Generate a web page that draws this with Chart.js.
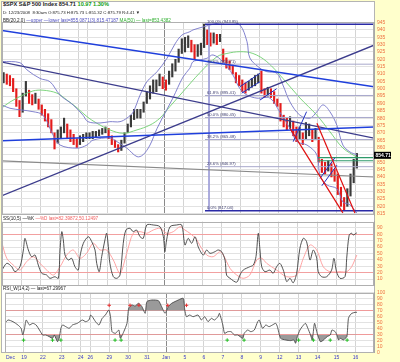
<!DOCTYPE html>
<html><head><meta charset="utf-8">
<script src="https://cdn.jsdelivr.net/npm/chart.js@4.4.1/dist/chart.umd.min.js"></script>
<style>
html,body{margin:0;padding:0;}
body{width:400px;height:362px;background:#ffffcc;position:relative;overflow:hidden;font-family:"Liberation Sans",Arial,sans-serif;}
#frame{position:absolute;left:1px;top:1px;width:372px;height:350px;background:#fff;border:1px solid #b4b4b4;}
canvas{position:absolute;left:0;}
.hdr{position:absolute;left:3px;white-space:nowrap;color:#222;z-index:5;}
</style></head><body>
<div id="frame"></div>
<canvas id="cMain" width="400" height="204" style="top:16px"></canvas>
<canvas id="cStoch" width="400" height="73" style="top:215px"></canvas>
<canvas id="cRsi" width="400" height="75" style="top:287px"></canvas>
<div class="hdr" style="top:1px;font-size:5.6px;font-weight:bold;line-height:6px">$SPX S&amp;P 500 Index 854.71 <span style="color:#10a010">10.97 1.30%</span></div>
<div class="hdr" style="top:9.5px;font-size:4.3px;line-height:5px">D: 12/23/2008 &nbsp;8:30am O:875.73 H:875.73 L:851.32 C:875.79 R:4.41 &#9660;</div>
<div class="hdr" style="top:17.5px;font-size:4.6px;line-height:5px">BB(20,2.0) <span style="color:#5050c0">&mdash;upper &mdash;lower last=855.0871(3),815.47187</span> <span style="color:#30b030">MA(50) &mdash; last=853.4382</span></div>
<div class="hdr" style="top:215.5px;font-size:4.6px;line-height:5px">SS(10,5) &mdash;%K <span style="color:#f06060">&mdash;%D last=82.39872,50.12497</span></div>
<div class="hdr" style="top:286px;font-size:4.6px;line-height:5px">RSI_W(14,2) &mdash; last=67.29967</div>
<script>
// ---- time axis: trading days (session units, 1 = full day) ----
const dayLabels = ['Dec','19','22','23','24','26','29','30','31','Jan','5','6','7','8','9','12','13','14','15','16'];
const dayLengths = [1,1,1,1,0.5,1,1,1,1,1,1,1,1,1,1,1,1,1,1,1];
const U_MAX = 19.48;
const BARS_PER_DAY = 6;

// ---- price bars per day: [low, high] ----
const priceBars = [
 [[904,911],[903,910],[902,909],[898,907],[888,900],[881,892]],
 [[884,897],[895,905],[890,899],[889,896],[890,897],[886,893]],
 [[882,889],[878,886],[874,883],[870,879],[859,870],[863,872]],
 [[866,874],[870,880],[866,876],[864,872],[862,869],[860,866]],
 [[862,868],[864,869],[866,870]],
 [[866,870],[866,871],[867,871],[868,872],[869,873],[870,874]],
 [[866,873],[862,868],[860,865],[857,862],[858,865],[863,870]],
 [[870,876],[874,882],[879,886],[880,886],[880,886],[884,891]],
 [[890,898],[893,902],[897,906],[898,906],[902,910],[900,908]],
 [[899,906],[903,912],[908,917],[912,920],[918,927],[924,934]],
 [[925,935],[928,936],[925,933],[920,930],[922,930],[923,931]],
 [[928,944],[930,940],[929,938],[931,938],[930,937],[932,937]],
 [[918,927],[914,921],[913,919],[910,916],[904,911],[902,909]],
 [[898,906],[897,904],[899,905],[901,907],[902,909],[904,910]],
 [[897,912],[894,900],[895,901],[894,900],[890,898],[888,893]],
 [[878,890],[874,882],[872,880],[873,881],[868,878],[864,874]],
 [[866,874],[862,870],[866,877],[868,876],[864,872],[866,873]],
 [[850,867],[843,852],[842,850],[844,851],[840,849],[837,845]],
 [[828,842],[820,833],[817,826],[820,832],[827,842],[836,852]],
 [[846,856]]
];
const lastPrice = 854.71;

// ---- overlays: [time, value] ----
const bbUpper = [[0,918.5],[0.94,917.7],[1.31,912.8],[1.99,907],[2.51,904.8],[3.04,895.7],[3.72,889],[4.24,882],[4.5,877.6],[5.13,876.7],[5.65,877.6],[6.18,877.6],[6.54,880],[6.86,884],[7.23,895.7],[7.59,904.8],[8.12,911.6],[8.64,920.7],[9.06,930.5],[9.42,936.5],[9.84,938.8],[10.0,940],[10.52,942],[11.26,944.5],[11.94,945.2],[12.46,943.4],[12.83,932],[12.98,920.9],[13.51,914],[13.87,911.6],[14.4,910.5],[14.71,902.5],[15.08,891],[15.6,882],[16.13,880],[16.49,884.4],[16.81,889],[17.17,884.4],[17.54,875],[17.85,861.7],[18.22,857],[18.58,855.1]];
const bbLower = [[0,889],[0.42,886.7],[1.62,884.4],[2.15,882],[2.67,868.6],[3.04,861.7],[3.93,859.6],[4.45,861.7],[4.76,865],[5.65,866.5],[6.02,864],[6.54,859.6],[7.07,853.8],[7.38,855],[7.75,861.7],[8.12,873],[8.64,886],[8.95,893.7],[9.48,908],[9.84,914],[10.0,918.4],[10.37,919.6],[10.73,920.7],[11.05,923],[11.57,918.4],[12.09,909.4],[12.46,900],[12.83,895.7],[13.35,893.6],[14.03,893.6],[14.55,884],[15.08,873],[15.45,864],[15.97,861.7],[16.49,855],[16.65,841],[17.02,834.5],[17.54,832],[17.85,823],[18.22,821],[18.58,815.5]];
const ma50 = [[0,887],[0.42,891],[1.1,895.7],[1.62,898.5],[2.15,899],[2.88,897],[3.4,892.3],[3.93,887],[4.45,881],[4.97,876.5],[5.65,872],[6.34,869.7],[7.07,872],[7.75,875.3],[8.27,880],[8.8,888],[9.48,898],[10.37,911],[11.26,921.8],[11.78,924],[12.46,925.2],[13.14,924],[13.87,918.4],[14.71,907],[15.6,893.7],[16.49,882],[17.17,870.8],[17.85,859.7],[18.58,853.4]];

// ---- drawn lines: [t0, v0, t1, v1] ----
const blueTrend = [[0,939.7,19.48,901.3],[0,864.6,19.48,874]];
const navyTrend = [[0,918.1,19.48,866.4],[0,827.2,19.48,929.6]];
const grayTrend = [[0,850.9,19.48,840]];
const redChannel = [[15.08,873,17.85,815.5],[16.49,876.5,18.48,815.5]];
const flagLines = [[12.46,901.4,13.51,910.5],[12.55,897,13.51,904.8],[13.51,892.3,14.38,900],[15.25,864,15.95,884.4],[16.65,839,17.43,853],[16.75,834,17.54,848]];
const greenLevels = [[16.54,853.1,19.48,853.1],[16.54,851,19.48,851]];
const fibStart = 10.63, fibVertical = 10.84;
const fibLevels = [943.85,916.71,895.41,880.45,865.48,846.97,817.04];
const fibLabels = ['100.0% (943.85)','78.6% (916.71)','61.8% (895.41)','50.0% (880.45)','38.2% (865.48)','23.6% (846.97)','0.0% (817.04)'];

// ---- Slow stochastic ----
const stochK = [[0,24],[0.25,34.6],[0.51,29.3],[0.68,21.5],[0.94,29.3],[1.12,55.5],[1.2,73.8],[1.38,55.5],[1.55,45],[1.73,47.6],[1.9,31.9],[2.08,19],[2.34,16.3],[2.51,11.1],[2.77,13.6],[2.95,11.1],[3.04,55.5],[3.13,84.2],[3.21,71.2],[3.3,47.6],[3.47,39.8],[3.65,42.5],[3.82,29.3],[3.99,24],[4.08,45],[4.26,66],[4.52,76.3],[4.7,68.5],[4.87,55.5],[4.96,34.6],[5.09,21.5],[5.22,45],[5.39,71.2],[5.48,81.7],[5.57,60.7],[5.65,34.6],[5.83,13.6],[6.01,11.1],[6.18,16.3],[6.35,66],[6.49,86.8],[6.7,89.5],[6.87,84.2],[7.05,86.8],[7.23,76.3],[7.4,73.8],[7.58,94.7],[7.92,94.7],[8.27,92],[8.45,76.3],[8.53,52.8],[8.62,71.2],[8.8,92],[9.15,94.7],[9.41,94.7],[9.58,63.3],[9.75,73.8],[9.93,66],[10.11,76.3],[10.28,60],[10.54,47.6],[10.72,55.5],[10.89,50.3],[11.15,52.8],[11.32,55.5],[11.5,52.8],[11.68,39.8],[11.76,16.3],[11.94,11.1],[12.29,5],[12.46,16.3],[12.63,24],[12.98,29.3],[13.16,31.9],[13.3,45],[13.42,81.7],[13.51,55.5],[13.6,29.3],[13.77,21.5],[14.03,24],[14.2,19],[14.38,29.3],[14.55,34.6],[14.73,24],[14.91,6],[15.08,11.1],[15.25,4],[15.43,19],[15.6,58.1],[15.78,73.8],[15.95,68.5],[16.13,39.8],[16.3,55.5],[16.48,42.5],[16.56,21.5],[16.74,13.6],[17.0,13.6],[17.26,24],[17.38,42.5],[17.52,21.5],[17.7,11.1],[17.96,13.6],[18.05,42.5],[18.18,79],[18.31,81.7],[18.39,79],[18.58,82.4]];
const stochD = [[0,66],[0.25,42.5],[0.59,31.9],[0.94,24.1],[1.29,37.1],[1.64,45],[1.99,34.6],[2.34,24.1],[2.69,16.3],[3.04,29.3],[3.39,47.6],[3.73,55.5],[4.08,42.5],[4.43,50.3],[4.78,66],[5.13,55.5],[5.48,55.5],[5.83,39.8],[6.18,19],[6.53,50.3],[6.87,81.7],[7.23,84.2],[7.58,81.7],[7.92,86.8],[8.27,89.5],[8.62,81.7],[8.97,84.2],[9.32,92],[9.58,86.8],[9.84,81.7],[10.19,72],[10.37,62],[10.72,47.6],[11.06,45],[11.41,52.8],[11.59,47.6],[11.94,26.8],[12.29,16.3],[12.63,11.1],[12.98,16.3],[13.34,39.8],[13.6,42.5],[13.86,34.6],[14.38,24.1],[14.91,13.6],[15.43,16.3],[15.78,42.5],[16.13,63.3],[16.48,55.5],[16.82,29.3],[17.17,21.5],[17.7,21.5],[18.05,21.5],[18.31,29.3],[18.58,47.6]];

// ---- RSI ----
const rsiTimes = [0,0.16,0.42,0.68,0.85,0.94,1.03,1.12,1.29,1.47,1.64,1.82,1.99,2.16,2.34,2.51,2.6,2.77,2.86,2.95,3.04,3.21,3.39,3.56,3.82,4.08,4.26,4.43,4.52,4.61,4.78,4.96,5.13,5.3,5.48,5.57,5.65,5.83,6.01,6.09,6.27,6.44,6.53,6.7,6.87,7.05,7.23,7.4,7.49,7.75,8.1,8.27,8.45,8.62,8.8,9.15,9.41,9.49,9.58,9.75,9.93,10.19,10.37,10.54,10.72,10.89,11.06,11.24,11.32,11.5,11.59,11.76,11.94,12.11,12.29,12.55,12.63,12.81,12.98,13.16,13.34,13.42,13.6,13.77,13.94,14.12,14.29,14.38,14.55,14.82,15.08,15.25,15.34,15.43,15.57,15.69,15.86,15.99,16.13,16.22,16.34,16.48,16.65,16.82,17.0,17.17,17.26,17.43,17.52,17.61,17.7,17.87,17.96,18.05,18.13,18.22,18.31,18.48,18.58];
const rsiValues = [49,54.5,51.7,46.2,40.6,29.5,40.6,54.5,46.2,49,46.2,37.8,29.5,29.5,26.7,23.9,29.5,18.4,23.9,40.6,46.2,43.4,40.6,46.2,49,54.5,51.7,54.5,62.8,60,51.7,46.2,57.3,62.8,71.2,60,35,32.3,37.8,23.9,35,49,74,79.5,77.8,82.3,76.7,65.6,85.1,87.8,86.7,76.7,65.6,76.7,82.3,87.8,90.6,71.2,60,62.8,60,62.8,54.5,60,51.7,57.3,54.5,60,65.6,46.2,32.3,35,35,29.5,29.5,23.9,32.3,37.8,35,37.8,51.7,54.5,40.6,46.2,43.4,46.2,49,43.4,23.9,21.2,20.1,21.2,15.7,26.7,37.8,43.4,49,40.6,29.5,21.2,49,32.3,18.4,21.2,26.7,29.5,37.8,35,29.5,21.2,23.9,21.2,23.9,26.7,57.3,62.8,65.6,67.3,67.3];
const buySignals = [0.98,2.51,2.95,5.81,6.13,11.73,12.62,15.5,16.28,17.17,18.06];
const sellSignals = [5.5,6.6,7.07,8.59,9.58];

// ---------------- build ----------------
const dayStarts = [];
{ let acc = 0; for (const L of dayLengths) { dayStarts.push(acc); acc += L; } }
const barData = [], barColors = [];
let prevMid = null;
priceBars.forEach((bars, d) => bars.forEach((b, i) => {
  barData.push({x: dayStarts[d] + (i + 0.5) / BARS_PER_DAY, y: [b[0], b[1]]});
  const mid = (b[0] + b[1]) / 2;
  barColors.push(prevMid !== null && mid < prevMid ? '#e41c1c' : '#3a3a3a');
  prevMid = mid;
}));
const pts = arr => arr.map(p => ({x: p[0], y: p[1]}));
const seg = s => [{x: s[0], y: s[1]}, {x: s[2], y: s[3]}];
const lineDs = (data, color, width, extra) => Object.assign({type: 'line', data, borderColor: color, borderWidth: width, pointRadius: 0, fill: false, tension: 0, order: 1}, extra || {});

const FONT = '"Liberation Sans", Arial, sans-serif';
const AXIS_COLOR = '#ee7040';
const xScale = () => ({
  type: 'linear', min: 0, max: U_MAX, offset: false,
  afterBuildTicks: s => { s.ticks = dayStarts.map(v => ({value: v})); },
  ticks: {display: false},
  grid: {drawTicks: false, offset: false, color: c => (c.tick && c.tick.value === dayStarts[9]) ? '#8a8a8a' : '#d4d4d4', lineWidth: 1},
  border: {display: false}
});
const yScale = (min, max, tickVals, gridColorFn) => ({
  position: 'right', min, max,
  afterBuildTicks: s => { s.ticks = tickVals.map(v => ({value: v})); },
  afterFit: s => { s.width = 26; s.paddingTop = 0; s.paddingBottom = 0; },
  ticks: {color: AXIS_COLOR, font: {size: 5, family: FONT}, padding: 3, autoSkip: false},
  grid: {drawTicks: false, color: gridColorFn || '#e2e2e2'},
  border: {display: true, color: '#a8a8a8'}
});
const frameBox = {id: 'frameBox', afterDraw(chart) {
  const a = chart.chartArea, ctx = chart.ctx;
  ctx.save(); ctx.strokeStyle = '#b0b0b0'; ctx.lineWidth = 1;
  ctx.strokeRect(Math.round(a.left) + 0.5, Math.round(a.top) + 0.5, Math.round(a.right - a.left) - 1, Math.round(a.bottom - a.top) - 1);
  ctx.restore();
}};
const baseOpts = pad => ({
  responsive: false, animation: false, events: [],
  layout: {padding: pad},
  plugins: {legend: {display: false}, tooltip: {enabled: false}}
});

// main price panel
const priceTicks = []; for (let v = 815; v <= 945; v += 5) priceTicks.push(v);
const mainDatasets = [
  {type: 'bar', data: barData, backgroundColor: barColors, barThickness: 1.5, order: 5, grouped: false},
  lineDs(pts(bbUpper), '#7474c8', 0.9, {tension: 0.35, order: 4}),
  lineDs(pts(bbLower), '#7474c8', 0.9, {tension: 0.35, order: 4}),
  lineDs(pts(ma50), '#70d070', 0.9, {tension: 0.35, order: 4}),
];
fibLevels.forEach((lv, i) => {
  const strong = i === 0 || i === fibLevels.length - 1;
  mainDatasets.push(lineDs([{x: fibStart, y: lv}, {x: U_MAX, y: lv}], strong ? '#2a2aa6' : '#a8a8cc', strong ? 1.6 : 1, {order: strong ? 2 : 3}));
});
mainDatasets.push(lineDs([{x: fibVertical, y: fibLevels[0]}, {x: fibVertical, y: fibLevels[fibLevels.length - 1]}], '#a0a0d8', 1, {order: 3}));
blueTrend.forEach(s => mainDatasets.push(lineDs(seg(s), '#1f3fdc', 1.5)));
navyTrend.forEach(s => mainDatasets.push(lineDs(seg(s), '#3c3c8c', 1.3)));
grayTrend.forEach(s => mainDatasets.push(lineDs(seg(s), '#8a8a8a', 1.1)));
redChannel.forEach(s => mainDatasets.push(lineDs(seg(s), '#e01010', 1.2, {order: 0})));
flagLines.forEach(s => mainDatasets.push(lineDs(seg(s), '#2030c0', 1, {order: 0})));
greenLevels.forEach(s => mainDatasets.push(lineDs(seg(s), '#2e9a6a', 1.1)));

const mainExtras = {id: 'mainExtras', afterDraw(chart) {
  const ctx = chart.ctx, x = chart.scales.x, y = chart.scales.y, a = chart.chartArea;
  ctx.save();
  ctx.font = '4.2px ' + FONT; ctx.fillStyle = '#404070'; ctx.textBaseline = 'bottom'; ctx.textAlign = 'left';
  fibLevels.forEach((lv, i) => ctx.fillText(fibLabels[i], x.getPixelForValue(fibStart) + 2, y.getPixelForValue(lv) - 0.5));
  const py = y.getPixelForValue(lastPrice);
  ctx.fillStyle = '#000'; ctx.fillRect(a.right, py - 3.5, 17, 7);
  ctx.fillStyle = '#fff'; ctx.font = 'bold 5px ' + FONT; ctx.textBaseline = 'middle';
  ctx.fillText(lastPrice.toFixed(2), a.right + 1.5, py + 0.3);
  ctx.restore();
}};
new Chart(document.getElementById('cMain'), {
  type: 'line',
  data: {datasets: mainDatasets},
  options: Object.assign(baseOpts({left: 2, top: 6, bottom: 5, right: 0}), {
    scales: {x: xScale(), y: yScale(814.1, 945.4, priceTicks)}
  }),
  plugins: [frameBox, mainExtras]
});

// stochastic panel
new Chart(document.getElementById('cStoch'), {
  type: 'line',
  data: {datasets: [
    lineDs(pts(stochD), '#ff9a9a', 0.9, {tension: 0.3, order: 2}),
    lineDs(pts(stochK), '#404040', 0.9, {tension: 0.3, order: 1})
  ]},
  options: Object.assign(baseOpts({left: 2, top: 6.6, bottom: 2.6, right: 0}), {
    scales: {x: xScale(), y: yScale(0, 100, [10,20,30,40,50,60,70,80,90], c => (c.tick && (c.tick.value === 80 || c.tick.value === 20)) ? '#f2a0a0' : '#e2e2e2')}
  }),
  plugins: [frameBox]
});

// RSI panel
const rsiPts = rsiTimes.map((t, i) => ({x: t, y: rsiValues[i]}));
const xLabels = {id: 'xLabels', afterDraw(chart) {
  const ctx = chart.ctx, x = chart.scales.x, a = chart.chartArea;
  ctx.save(); ctx.font = '5px ' + FONT; ctx.fillStyle = '#3838c8'; ctx.textBaseline = 'middle';
  dayLabels.forEach((lab, i) => {
    const px = x.getPixelForValue(dayStarts[i]);
    ctx.textAlign = i === 0 ? 'left' : 'center';
    ctx.fillText(lab, i === 0 ? px + 1 : px, a.bottom + 5);
  });
  ctx.restore();
}};
new Chart(document.getElementById('cRsi'), {
  type: 'line',
  data: {datasets: [
    lineDs(rsiPts, 'rgba(0,0,0,0)', 0, {tension: 0.2, order: 3, fill: {target: {value: 70}, above: '#9a9a9a', below: 'rgba(0,0,0,0)'}}),
    lineDs(rsiPts, 'rgba(0,0,0,0)', 0, {tension: 0.2, order: 3, fill: {target: {value: 30}, above: 'rgba(0,0,0,0)', below: '#9a9a9a'}}),
    lineDs(rsiPts, '#484848', 0.9, {tension: 0.2, order: 1}),
    {type: 'scatter', data: buySignals.map(t => ({x: t, y: 21})), pointStyle: 'cross', pointRadius: 1.8, borderColor: '#22c022', borderWidth: 1, order: 0},
    {type: 'scatter', data: sellSignals.map(t => ({x: t, y: 79})), pointStyle: 'cross', pointRadius: 1.8, borderColor: '#e83030', borderWidth: 1, order: 0}
  ]},
  options: Object.assign(baseOpts({left: 2, top: 5.7, bottom: 9.3, right: 0}), {
    scales: {x: xScale(), y: yScale(0, 100, [0,10,20,30,40,50,60,70,80,90,100], c => (c.tick && (c.tick.value === 70 || c.tick.value === 30)) ? '#f09a9a' : '#e2e2e2')}
  }),
  plugins: [frameBox, xLabels]
});
</script>
</body></html>
